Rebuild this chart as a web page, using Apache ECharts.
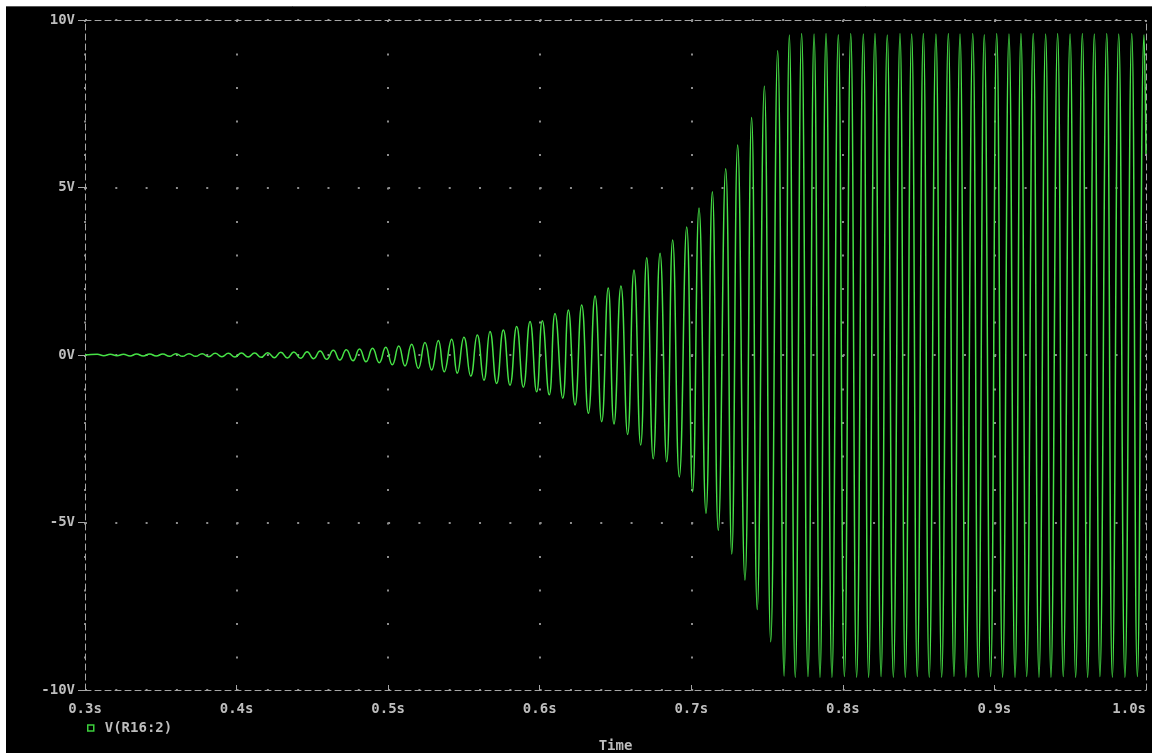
<!DOCTYPE html>
<html>
<head>
<meta charset="utf-8">
<script src="https://cdn.jsdelivr.net/npm/echarts@6/dist/echarts.min.js"></script>
<style>
  html, body { margin: 0; padding: 0; background: #000; }
  #chart { width: 1152px; height: 753px; }
</style>
</head>
<body>
<div id="chart"></div>
<script>
// Transient: V(R16:2), time in ms, volts at each local peak / trough of the oscillation
const extremeTimesMs = [
  300.0,
  308.1, 312.4, 316.7, 321.1, 325.4, 329.7, 334.0, 338.4, 342.7, 347.0,
  351.3, 355.7, 360.0, 364.3, 368.6, 373.0, 377.3, 381.6, 385.9, 390.3,
  394.6, 398.9, 403.2, 407.6, 411.9, 416.2, 420.5, 424.9, 429.2, 433.5,
  437.8, 442.2, 446.5, 450.8, 455.1, 459.5, 463.8, 468.1, 472.4, 476.8,
  481.1, 485.4, 489.7, 494.1, 498.4, 502.7, 507.0,
  511.1, 515.5, 519.9, 524.3, 528.7, 533.1, 537.0, 541.9, 545.6, 550.0,
  554.5, 558.8, 563.2, 567.2, 571.6, 576.0, 580.4, 584.8, 589.2, 593.6,
  598.0, 601.7, 606.3, 610.1, 615.2, 618.9, 623.3, 627.7, 632.1, 636.5,
  640.9, 645.2,
  649.0, 653.6, 658.0, 662.2, 666.6, 670.6, 674.9, 679.4, 683.8, 687.7,
  692.1, 697.0, 700.9, 705.1, 709.7, 713.9, 717.8, 722.7, 726.7, 730.6,
  735.4, 739.8, 743.5, 748.2, 752.4, 757.0, 761.2, 764.7,
  768.6, 772.8, 777.0, 781.0, 784.9, 788.9, 792.8, 797.0, 801.0, 805.2,
  809.1, 813.5, 817.0, 821.2, 825.2, 829.3, 833.3, 837.7, 841.2, 845.4,
  849.1, 853.1, 857.0, 861.4, 865.2, 869.6, 873.3, 877.3, 881.2, 885.7,
  889.4, 893.3, 897.5, 901.5, 905.4, 909.6, 913.6, 917.5, 921.3, 925.6,
  929.4, 933.8, 937.3, 941.7, 945.4, 949.9, 953.6, 958.0, 961.5, 965.9,
  969.6, 974.1, 977.8, 982.0, 986.1, 990.6, 994.3, 998.7,
  1000.0
];
const extremeVolts = [
  0.00,
  0.02, -0.02, 0.02, -0.02, 0.02, -0.03, 0.03, -0.03, 0.03, -0.03,
  0.03, -0.04, 0.04, -0.04, 0.04, -0.04, 0.04, -0.05, 0.05, -0.05,
  0.05, -0.06, 0.06, -0.06, 0.06, -0.07, 0.07, -0.08, 0.08, -0.09,
  0.09, -0.10, 0.10, -0.11, 0.12, -0.13, 0.14, -0.15, 0.16, -0.17,
  0.18, -0.20, 0.20, -0.23, 0.23, -0.29, 0.27,
  -0.33, 0.32, -0.40, 0.37, -0.45, 0.43, -0.50, 0.47, -0.54, 0.53,
  -0.63, 0.60, -0.75, 0.70, -0.85, 0.75, -0.90, 0.85, -0.96, 1.00,
  -1.10, 1.02, -1.19, 1.24, -1.29, 1.34, -1.49, 1.49, -1.74, 1.76,
  -1.99, 2.00,
  -2.06, 2.06, -2.37, 2.54, -2.69, 2.90, -3.10, 3.04, -3.19, 3.43,
  -3.64, 3.82, -4.09, 4.39, -4.73, 4.87, -5.24, 5.56, -5.94, 6.27,
  -6.72, 7.09, -7.60, 8.02, -8.56, 9.08, -9.58, 9.55,
  -9.62, 9.60, -9.60, 9.58, -9.62, 9.60, -9.62, 9.56, -9.60, 9.60,
  -9.62, 9.58, -9.62, 9.60, -9.60, 9.55, -9.62, 9.60, -9.62, 9.58,
  -9.60, 9.60, -9.62, 9.58, -9.62, 9.60, -9.60, 9.58, -9.62, 9.60,
  -9.62, 9.56, -9.60, 9.60, -9.62, 9.58, -9.62, 9.60, -9.60, 9.60,
  -9.62, 9.58, -9.62, 9.60, -9.60, 9.58, -9.62, 9.60, -9.62, 9.58,
  -9.60, 9.60, -9.62, 9.58, -9.62, 9.60, -9.60, 9.56,
  6.00
];

// Axis ticks and their labels
const timeTickValues = [300, 400, 500, 600, 700, 800, 900, 1000];
const timeTickLabels = ['0.3s', '0.4s', '0.5s', '0.6s', '0.7s', '0.8s', '0.9s', '1.0s'];
const voltTickValues = [-10, -5, 0, 5, 10];
const voltTickLabels = ['-10V', '-5V', '0V', '5V', '10V'];

const traceName = 'V(R16:2)';
const axisTitle = 'Time';

const points = extremeTimesMs.map((t, i) => [t, extremeVolts[i]]);

const FONT = '"DejaVu Sans Mono", "Liberation Mono", monospace';
const TEXT = '#bdbdbd';
const FRAME = '#a6a6a6';
const TRACE = '#46e246';

function lookup(values, labels) {
  return v => {
    const i = values.findIndex(x => Math.abs(x - v) < 1e-6);
    return i >= 0 ? labels[i] : '';
  };
}

const chart = echarts.init(document.getElementById('chart'), null, { renderer: 'canvas' });

chart.setOption({
  animation: false,
  backgroundColor: '#000',
  grid: { left: 85, right: 6, top: 20, bottom: 63, containLabel: false, outerBoundsMode: 'none' },
  legend: {
    left: 82, top: 716,
    icon: 'rect', itemWidth: 6, itemHeight: 6,
    itemStyle: { color: 'transparent', borderColor: '#3ccf3c', borderWidth: 1.5 },
    textStyle: { color: TEXT, fontFamily: FONT, fontWeight: 'bold', fontSize: 14, padding: [0, 0, 0, 6] },
    data: [traceName],
    selectedMode: false
  },
  xAxis: [
    {
      type: 'value', min: 300, max: 1000, interval: 100,
      position: 'bottom',
      name: axisTitle, nameLocation: 'middle', nameGap: 49,
      nameTextStyle: { color: TEXT, fontFamily: FONT, fontWeight: 'bold', fontSize: 14 },
      axisLine: { show: true, onZero: false, lineStyle: { color: FRAME, width: 1, type: [6, 4] } },
      axisTick: { show: true, inside: true, length: 5, lineStyle: { color: FRAME } },
      axisLabel: {
        color: TEXT, fontFamily: FONT, fontWeight: 'bold', fontSize: 14, margin: 12,
        alignMaxLabel: 'right',
        formatter: lookup(timeTickValues, timeTickLabels)
      },
      splitLine: { show: true, lineStyle: { color: '#8c8c8c', width: 2, type: [2, 31.5] } }
    },
    {
      type: 'value', min: 300, max: 1000, interval: 100,
      position: 'top',
      axisLine: { show: true, onZero: false, lineStyle: { color: FRAME, width: 1, type: [6, 4] } },
      axisTick: { show: false }, axisLabel: { show: false }, splitLine: { show: false }
    }
  ],
  yAxis: [
    {
      type: 'value', min: -10, max: 10, interval: 5,
      position: 'left',
      axisLine: { show: true, onZero: false, lineStyle: { color: FRAME, width: 1, type: [6, 4] } },
      axisTick: { show: true, inside: false, length: 7, lineStyle: { color: FRAME } },
      axisLabel: {
        color: TEXT, fontFamily: FONT, fontWeight: 'bold', fontSize: 14, margin: 10,
        formatter: lookup(voltTickValues, voltTickLabels)
      },
      splitLine: { show: true, lineStyle: { color: '#8c8c8c', width: 2, type: [2, 28.31] } }
    },
    {
      type: 'value', min: -10, max: 10, interval: 5,
      position: 'right',
      axisLine: { show: true, onZero: false, lineStyle: { color: FRAME, width: 1, type: [6, 4] } },
      axisTick: { show: false }, axisLabel: { show: false }, splitLine: { show: false }
    }
  ],
  series: [
    {
      name: traceName,
      type: 'line',
      xAxisIndex: 0, yAxisIndex: 0,
      data: points,
      showSymbol: false,
      smooth: 0.5,
      lineStyle: { color: TRACE, width: 1.5 },
      itemStyle: { color: TRACE },
      z: 5
    }
  ],
  graphic: [
    // white page margin along the top and left edges of the window
    { type: 'rect', left: 0, top: 0, shape: { width: 1152, height: 6 }, style: { fill: '#fff' }, silent: true },
    { type: 'rect', left: 0, top: 0, shape: { width: 6, height: 753 }, style: { fill: '#fff' }, silent: true },
    { type: 'line', shape: { x1: 6, y1: 6.5, x2: 1152, y2: 6.5 }, style: { stroke: '#555', lineWidth: 1 }, silent: true }
  ]
});
</script>
</body>
</html>
